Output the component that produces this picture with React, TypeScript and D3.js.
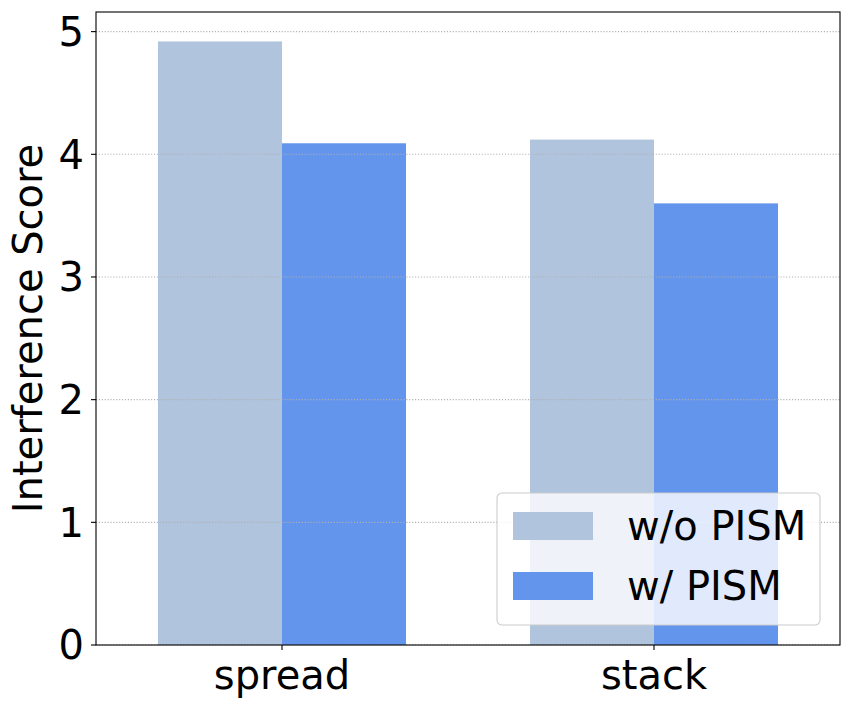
import React from 'react';
import * as d3 from 'd3';

const categories = ['spread', 'stack'];
const seriesNames = ['w/o PISM', 'w/ PISM'];
const seriesColors = ['#b0c4de', '#6495ed'];
const withoutPism = [4.92, 4.12];
const withPism = [4.09, 3.60];
const yTicks = [0, 1, 2, 3, 4, 5];

const svgWidth = 851, svgHeight = 709;
const margin = { top: 12, right: 11, bottom: 64, left: 96 };
const width = svgWidth - margin.left - margin.right;
const height = svgHeight - margin.top - margin.bottom;
const font = 'DejaVu Sans, sans-serif';
const fontSize = 40;

const App = () => {
  const xScale = d3.scaleLinear().domain([-0.5, categories.length - 0.5]).range([0, width]);
  const yScale = d3.scaleLinear().domain([0, 5.16]).range([height, 0]);
  const barW = 1 / 3;
  const series = [withoutPism, withPism];

  return <svg width={svgWidth} height={svgHeight} style={{ position: 'absolute', left: 0, top: 0 }}>
    <rect width={svgWidth} height={svgHeight} fill='#fff' />
    <g transform={`translate(${margin.left}, ${margin.top})`}>
      {/* bars */}
      {series.map((vals, s) => vals.map((v, i) => {
        const x0 = i - barW + s * barW;
        return <rect key={`${s}-${i}`}
          x={xScale(x0)}
          y={yScale(v)}
          width={xScale(x0 + barW) - xScale(x0)}
          height={yScale(0) - yScale(v)}
          fill={seriesColors[s]} />;
      }))}
      {/* grid */}
      {yTicks.map(t => <line key={t}
        x1={0} x2={width} y1={yScale(t)} y2={yScale(t)}
        stroke='#b0b0b0' strokeWidth={1.1} strokeDasharray='1.1,1.8' />)}
      {/* frame */}
      <rect x={0} y={0} width={width} height={height} fill='none' stroke='#000' strokeWidth={1.1} />
      {/* y axis */}
      {yTicks.map(t => <g key={t}>
        <line x1={-5} x2={0} y1={yScale(t)} y2={yScale(t)} stroke='#000' strokeWidth={1.1} />
        <text x={-12} y={yScale(t)} dy='0.36em' textAnchor='end'
          fontFamily={font} fontSize={fontSize} fill='#000'>{t}</text>
      </g>)}
      {/* x axis */}
      {categories.map((c, i) => <g key={c}>
        <line x1={xScale(i)} x2={xScale(i)} y1={height} y2={height + 5} stroke='#000' strokeWidth={1.1} />
        <text x={xScale(i)} y={height + 44} textAnchor='middle'
          fontFamily={font} fontSize={fontSize} fill='#000'>{c}</text>
      </g>)}
      <text transform={`translate(${-54}, ${height / 2}) rotate(-90)`} textAnchor='middle'
        fontFamily={font} fontSize={fontSize} fill='#000'>Interference Score</text>
      {/* legend */}
      <g transform={`translate(${497 - margin.left}, ${493 - margin.top})`}>
        <rect x={0} y={0} width={323} height={132} rx={5} fill='#fff' fillOpacity={0.8} stroke='#cccccc' strokeWidth={1.1} />
        {seriesNames.map((n, s) => <g key={n}>
          <rect x={16} y={19 + s * 60} width={80} height={28} fill={seriesColors[s]} />
          <text x={130} y={33 + s * 60} dy='0.36em' fontFamily={font} fontSize={fontSize} fill='#000'>{n}</text>
        </g>)}
      </g>
    </g>
  </svg>;
};

export default App;
